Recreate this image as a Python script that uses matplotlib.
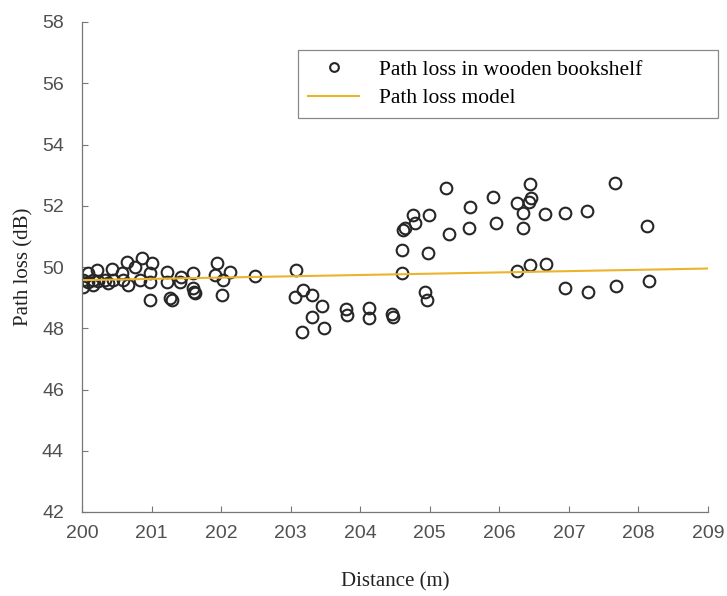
import matplotlib
matplotlib.use("Agg")
import matplotlib.pyplot as plt
import numpy as np

# measured path loss along the shelf (distance in m, loss in dB)
distance = [
    200.02, 200.01, 200.09, 200.16, 200.22, 200.16, 200.33, 200.43, 200.45, 200.57,
    200.59, 200.66, 200.64, 200.76, 200.86, 200.83, 201.00, 200.98, 200.98, 201.22,
    201.22, 201.27, 201.29, 201.43, 201.41, 201.60, 201.60, 201.61, 201.62, 201.94,
    201.91, 202.03, 202.01, 202.13, 202.49, 200.23, 200.38, 200.98, 200.09,
    203.08, 203.06, 203.18, 203.30, 203.45, 203.30, 203.17, 203.48, 203.80, 203.81,
    204.12, 204.12, 204.45, 204.47,
    204.60, 204.60, 204.62, 204.64, 204.76, 204.79, 204.93, 204.96, 204.98, 204.99,
    205.24, 205.27, 205.56, 205.58, 205.91, 205.95, 206.25, 206.25, 206.34, 206.34,
    206.42, 206.44, 206.45, 206.44, 206.66, 206.67, 206.94, 206.95, 207.26, 207.28,
    207.66, 207.68, 208.12, 208.15,
]
path_loss = [
    49.58, 49.36, 49.79, 49.58, 49.90, 49.41, 49.58, 49.93, 49.58, 49.79,
    49.58, 49.41, 50.17, 50.01, 50.28, 49.58, 50.12, 49.79, 48.92, 49.85,
    49.52, 48.98, 48.92, 49.68, 49.52, 49.79, 49.30, 49.19, 49.15, 50.12,
    49.74, 49.58, 49.09, 49.85, 49.71, 49.55, 49.47, 49.52, 49.50,
    49.90, 49.02, 49.25, 49.10, 48.73, 48.38, 47.89, 48.02, 48.62, 48.43,
    48.65, 48.33, 48.47, 48.38,
    49.79, 50.55, 51.21, 51.26, 51.70, 51.43, 49.19, 48.92, 50.45, 51.70,
    52.57, 51.08, 51.28, 51.97, 52.30, 51.43, 52.10, 49.87, 51.75, 51.26,
    52.13, 52.71, 52.24, 50.07, 51.73, 50.10, 49.30, 51.77, 51.83, 49.19,
    52.73, 49.39, 51.35, 49.55,
]

# fitted model, end points
model_d = [200, 209]
model_pl = [49.57, 49.95]

xticks = list(range(200, 210))
yticks = list(range(42, 59, 2))

serif = ["Liberation Serif", "DejaVu Serif"]
sans = ["Liberation Sans", "DejaVu Sans"]

fig = plt.figure(figsize=(7.27, 5.96), dpi=100)
ax = fig.add_axes([82 / 727, 1 - 512 / 596, 626 / 727, 490 / 596])

ax.plot(distance, path_loss, linestyle="none", marker="o", markersize=8.4,
        markerfacecolor="none", markeredgecolor="#262626", markeredgewidth=1.5,
        label="Path loss in wooden bookshelf")
ax.plot(model_d, model_pl, color="#EBB42C", linewidth=1.5, label="Path loss model")

ax.set_xlim(200, 209)
ax.set_ylim(42, 58)
ax.set_xticks(xticks)
ax.set_yticks(yticks)

for side in ["top", "right"]:
    ax.spines[side].set_visible(False)
for side in ["left", "bottom"]:
    ax.spines[side].set_color("#777777")
    ax.spines[side].set_linewidth(0.9)

ax.tick_params(direction="in", length=4, width=0.8, color="#777777",
               labelcolor="#505050", labelsize=14)
ax.tick_params(axis="y", pad=13)
ax.tick_params(axis="x", pad=9)
for lab in ax.get_xticklabels() + ax.get_yticklabels():
    lab.set_family(sans)

ax.set_xlabel("Distance (m)", family=serif, fontsize=15, color="#222222", labelpad=22)
ax.set_ylabel("Path loss (dB)", family=serif, fontsize=15, color="#222222", labelpad=6)

leg = ax.legend(loc="upper left", bbox_to_anchor=(298 / 727, 1 - 113 / 596, 420 / 727, 63 / 596),
                bbox_transform=fig.transFigure, mode="expand", borderaxespad=0,
                prop={"family": serif, "size": 15.5}, handlelength=2.4, handletextpad=0.9,
                borderpad=0.45, labelspacing=0.4, markerscale=0.75, fancybox=False,
                framealpha=1)
leg.get_frame().set_edgecolor("#888888")
leg.get_frame().set_linewidth(0.9)

fig.savefig("out.png", dpi=100)
